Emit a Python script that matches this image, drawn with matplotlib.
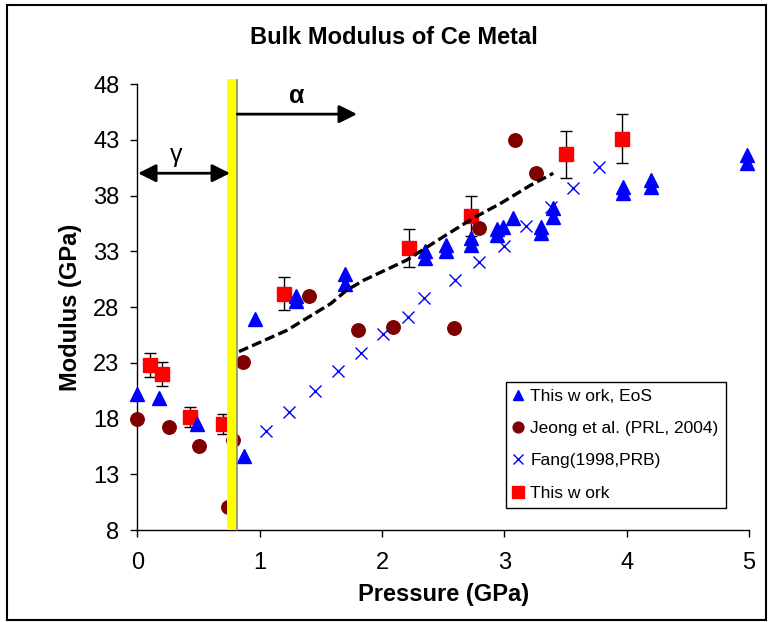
from matplotlib import pyplot as plt
from matplotlib.patches import Rectangle

# This work, EoS fit
eos_p = [0.0, 0.18, 0.49, 0.87, 0.96, 1.30, 1.30, 1.70, 1.70, 2.35, 2.35, 2.52, 2.52,
         2.73, 2.73, 2.94, 2.94, 2.99, 3.07, 3.30, 3.30, 3.40, 3.40, 3.97, 3.97,
         4.20, 4.20, 4.98, 4.98]
eos_b = [20.2, 19.8, 17.5, 14.6, 26.9, 29.0, 28.5, 31.0, 30.1, 33.0, 32.4, 33.6, 33.0,
         34.2, 33.6, 35.0, 34.5, 35.2, 36.0, 35.2, 34.6, 36.9, 36.1, 38.8, 38.2,
         39.4, 38.8, 41.6, 40.9]

# Jeong et al. (PRL, 2004)
jeong_p = [0.0, 0.26, 0.50, 0.74, 0.78, 0.86, 1.40, 1.80, 2.09, 2.59, 2.79, 3.09, 3.26]
jeong_b = [18.0, 17.2, 15.5, 10.1, 16.1, 23.1, 29.0, 25.9, 26.2, 26.1, 35.1, 43.0, 40.0]

# Fang (1998, PRB)
fang_p = [1.05, 1.24, 1.45, 1.64, 1.83, 2.01, 2.21, 2.34, 2.60, 2.79, 3.00, 3.18,
          3.38, 3.56, 3.77]
fang_b = [16.9, 18.6, 20.5, 22.3, 23.9, 25.6, 27.1, 28.8, 30.4, 32.0, 33.5, 35.3,
          37.0, 38.7, 40.6]

# This work, with error bars
work_p = [0.10, 0.20, 0.43, 0.70, 1.20, 2.22, 2.73, 3.50, 3.96]
work_b = [22.8, 22.0, 18.1, 17.5, 29.2, 33.3, 36.2, 41.7, 43.1]
work_err = [1.1, 1.1, 0.9, 0.9, 1.5, 1.7, 1.8, 2.1, 2.2]

# guide line through the alpha phase
trend_p = [0.83, 1.22, 1.58, 1.71, 1.85, 2.20, 2.50, 2.75, 2.97, 3.21, 3.40]
trend_b = [24.0, 25.9, 28.3, 29.5, 30.4, 32.2, 34.3, 36.0, 37.3, 38.9, 40.0]

x_ticks = [0, 1, 2, 3, 4, 5]
y_ticks = [8, 13, 18, 23, 28, 33, 38, 43, 48]

plt.rcParams['font.family'] = ['Liberation Sans', 'DejaVu Sans']

fig = plt.figure(figsize=(7.73, 6.22), dpi=100)
ax = fig.add_axes([0.1778, 0.1479, 0.7912, 0.7170])

ax.errorbar(work_p, work_b, yerr=work_err, fmt='none', ecolor='black',
            elinewidth=1, capsize=4.5, capthick=1, zorder=3, clip_on=False)
ax.plot(work_p, work_b, 's', color='#ff0000', markersize=10, zorder=4,
        clip_on=False, label='This w ork')
ax.plot(jeong_p, jeong_b, 'o', color='#800000', markersize=9.7, zorder=4,
        clip_on=False, label='Jeong et al. (PRL, 2004)')
ax.plot(eos_p, eos_b, '^', color='#0000ff', markersize=9.4, zorder=5,
        clip_on=False, label='This w ork, EoS')
ax.plot(fang_p, fang_b, 'x', color='#0000ff', markersize=9, markeredgewidth=1,
        zorder=5, clip_on=False, label='Fang(1998,PRB)')
ax.plot(trend_p, trend_b, color='black', lw=2.4, linestyle=(0, (3, 1.3)), zorder=6)

# gamma/alpha phase boundary
ax.add_patch(Rectangle((0.735, 8), 0.08, 40.45, facecolor='#ffff00', edgecolor='none',
                       zorder=7, clip_on=False))
ax.plot([0.818, 0.818], [8, 48.36], color='#808080', lw=1.1, zorder=7, clip_on=False)

ax.annotate('', xy=(0.757, 40), xytext=(0.005, 40),
            arrowprops=dict(arrowstyle='<|-|>', color='black', lw=2,
                            mutation_scale=27, shrinkA=0, shrinkB=0), zorder=8)
ax.annotate('', xy=(1.795, 45.3), xytext=(0.816, 45.3),
            arrowprops=dict(arrowstyle='-|>', color='black', lw=2,
                            mutation_scale=27, shrinkA=0, shrinkB=0), zorder=8)
ax.text(0.32, 41.6, 'γ', fontsize=18, ha='center', va='center')
ax.text(1.30, 46.9, 'α', fontsize=18, fontweight='bold', ha='center', va='center')

ax.set_xlim(0, 5)
ax.set_ylim(8, 48)
ax.set_xticks(x_ticks)
ax.set_yticks(y_ticks)
ax.tick_params(axis='both', labelsize=17, length=5, width=1, direction='out')
ax.tick_params(axis='x', pad=11)
ax.tick_params(axis='y', pad=8)
for side in ['top', 'right']:
    ax.spines[side].set_visible(False)
for side in ['left', 'bottom']:
    ax.spines[side].set_linewidth(1)

ax.set_xlabel('Pressure (GPa)', fontsize=17, fontweight='bold', labelpad=6)
ax.set_ylabel('Modulus (GPa)', fontsize=17, fontweight='bold', labelpad=8)
fig.text(0.510, 0.940, 'Bulk Modulus of Ce Metal', fontsize=17, fontweight='bold',
         ha='center', va='center')

handles, labels = ax.get_legend_handles_labels()
order = [2, 1, 3, 0]
leg = ax.legend([handles[i] for i in order], [labels[i] for i in order],
                loc='upper left', bbox_to_anchor=(0.6027, 0.3318), borderaxespad=0,
                fontsize=12.5, numpoints=1, markerscale=0.8, handlelength=0.6,
                handletextpad=0.4, labelspacing=0.98, borderpad=0.4,
                fancybox=False, framealpha=1)
leg.get_frame().set_edgecolor('black')
leg.get_frame().set_linewidth(1)
leg.set_zorder(10)

# outer chart border
fig.patches.append(Rectangle((0.009, 0.003), 0.982, 0.989, transform=fig.transFigure,
                             fill=False, edgecolor='black', linewidth=1.5))

fig.savefig('out.png', dpi=100)
